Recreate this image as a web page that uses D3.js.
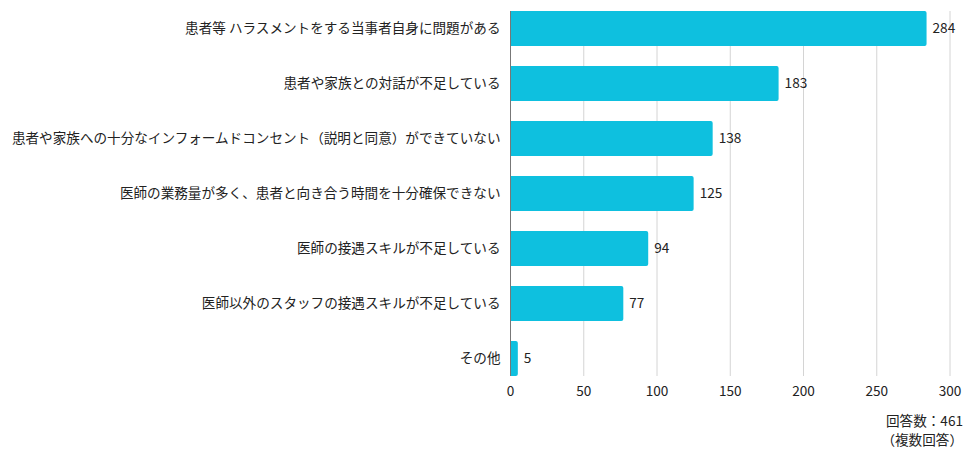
<!DOCTYPE html>
<html>
<head>
<meta charset="utf-8">
<script src="https://cdn.jsdelivr.net/npm/d3@7"></script>
<style>
  body { margin: 0; background: #fff; }
  text { font-family: "Noto Sans CJK JP", "Noto Sans", sans-serif; fill: #222; }
</style>
</head>
<body>
<div id="chart"></div>
<script>
const categories = [
    "患者等 ハラスメントをする当事者自身に問題がある",
    "患者や家族との対話が不足している",
    "患者や家族への十分なインフォームドコンセント（説明と同意）ができていない",
    "医師の業務量が多く、患者と向き合う時間を十分確保できない",
    "医師の接遇スキルが不足している",
    "医師以外のスタッフの接遇スキルが不足している",
    "その他"
];
const values = [284, 183, 138, 125, 94, 77, 5];
const xTicks = [0, 50, 100, 150, 200, 250, 300];
const noteLines = ["回答数：461", "（複数回答）"];

const width = 976, height = 459;
const margin = { top: 11, right: 26, bottom: 83, left: 510.5 };
const fs = 13.6;

const svg = d3.select("#chart").append("svg")
    .attr("width", width)
    .attr("height", height);

const x = d3.scaleLinear().domain([0, 300]).range([margin.left, width - margin.right]);
const y = d3.scaleBand().domain(categories)
    .range([margin.top, height - margin.bottom])
    .paddingInner(0.364).paddingOuter(0);

// gridlines
svg.append("g").selectAll("line").data(xTicks.slice(1)).enter().append("line")
    .attr("x1", d => x(d)).attr("x2", d => x(d))
    .attr("y1", margin.top).attr("y2", y.range()[1])
    .attr("stroke", "#d4d4d4").attr("stroke-width", 1);

// bars
svg.append("g").selectAll("path").data(values).enter().append("path")
    .attr("d", (d, i) => {
        const x0 = x(0), x1 = x(d), y0 = y(categories[i]), h = y.bandwidth();
        const r = Math.min(2, x1 - x0);
        return `M${x0},${y0}H${x1 - r}Q${x1},${y0} ${x1},${y0 + r}V${y0 + h - r}Q${x1},${y0 + h} ${x1 - r},${y0 + h}H${x0}Z`;
    })
    .attr("fill", "#0ec0df");

// axis line
svg.append("line")
    .attr("x1", x(0)).attr("x2", x(0))
    .attr("y1", margin.top).attr("y2", y.range()[1])
    .attr("stroke", "#777").attr("stroke-width", 1);

// category labels
svg.append("g").selectAll("text").data(categories).enter().append("text")
    .attr("x", x(0) - 10)
    .attr("y", d => y(d) + y.bandwidth() / 2)
    .attr("dy", "0.35em")
    .attr("text-anchor", "end")
    .attr("font-size", fs)
    .text(d => d);

// value labels
svg.append("g").selectAll("text").data(values).enter().append("text")
    .attr("x", d => x(d) + 6)
    .attr("y", (d, i) => y(categories[i]) + y.bandwidth() / 2)
    .attr("dy", "0.35em")
    .attr("font-size", fs)
    .text(d => d);

// tick labels
svg.append("g").selectAll("text").data(xTicks).enter().append("text")
    .attr("x", d => x(d))
    .attr("y", y.range()[1] + 15)
    .attr("dy", "0.35em")
    .attr("text-anchor", "middle")
    .attr("font-size", fs)
    .text(d => d);

// note
svg.append("g").selectAll("text").data(noteLines).enter().append("text")
    .attr("x", 963)
    .attr("y", (d, i) => 421 + i * 19)
    .attr("dy", "0.35em")
    .attr("text-anchor", "end")
    .attr("font-size", fs)
    .text(d => d);
</script>
</body>
</html>
